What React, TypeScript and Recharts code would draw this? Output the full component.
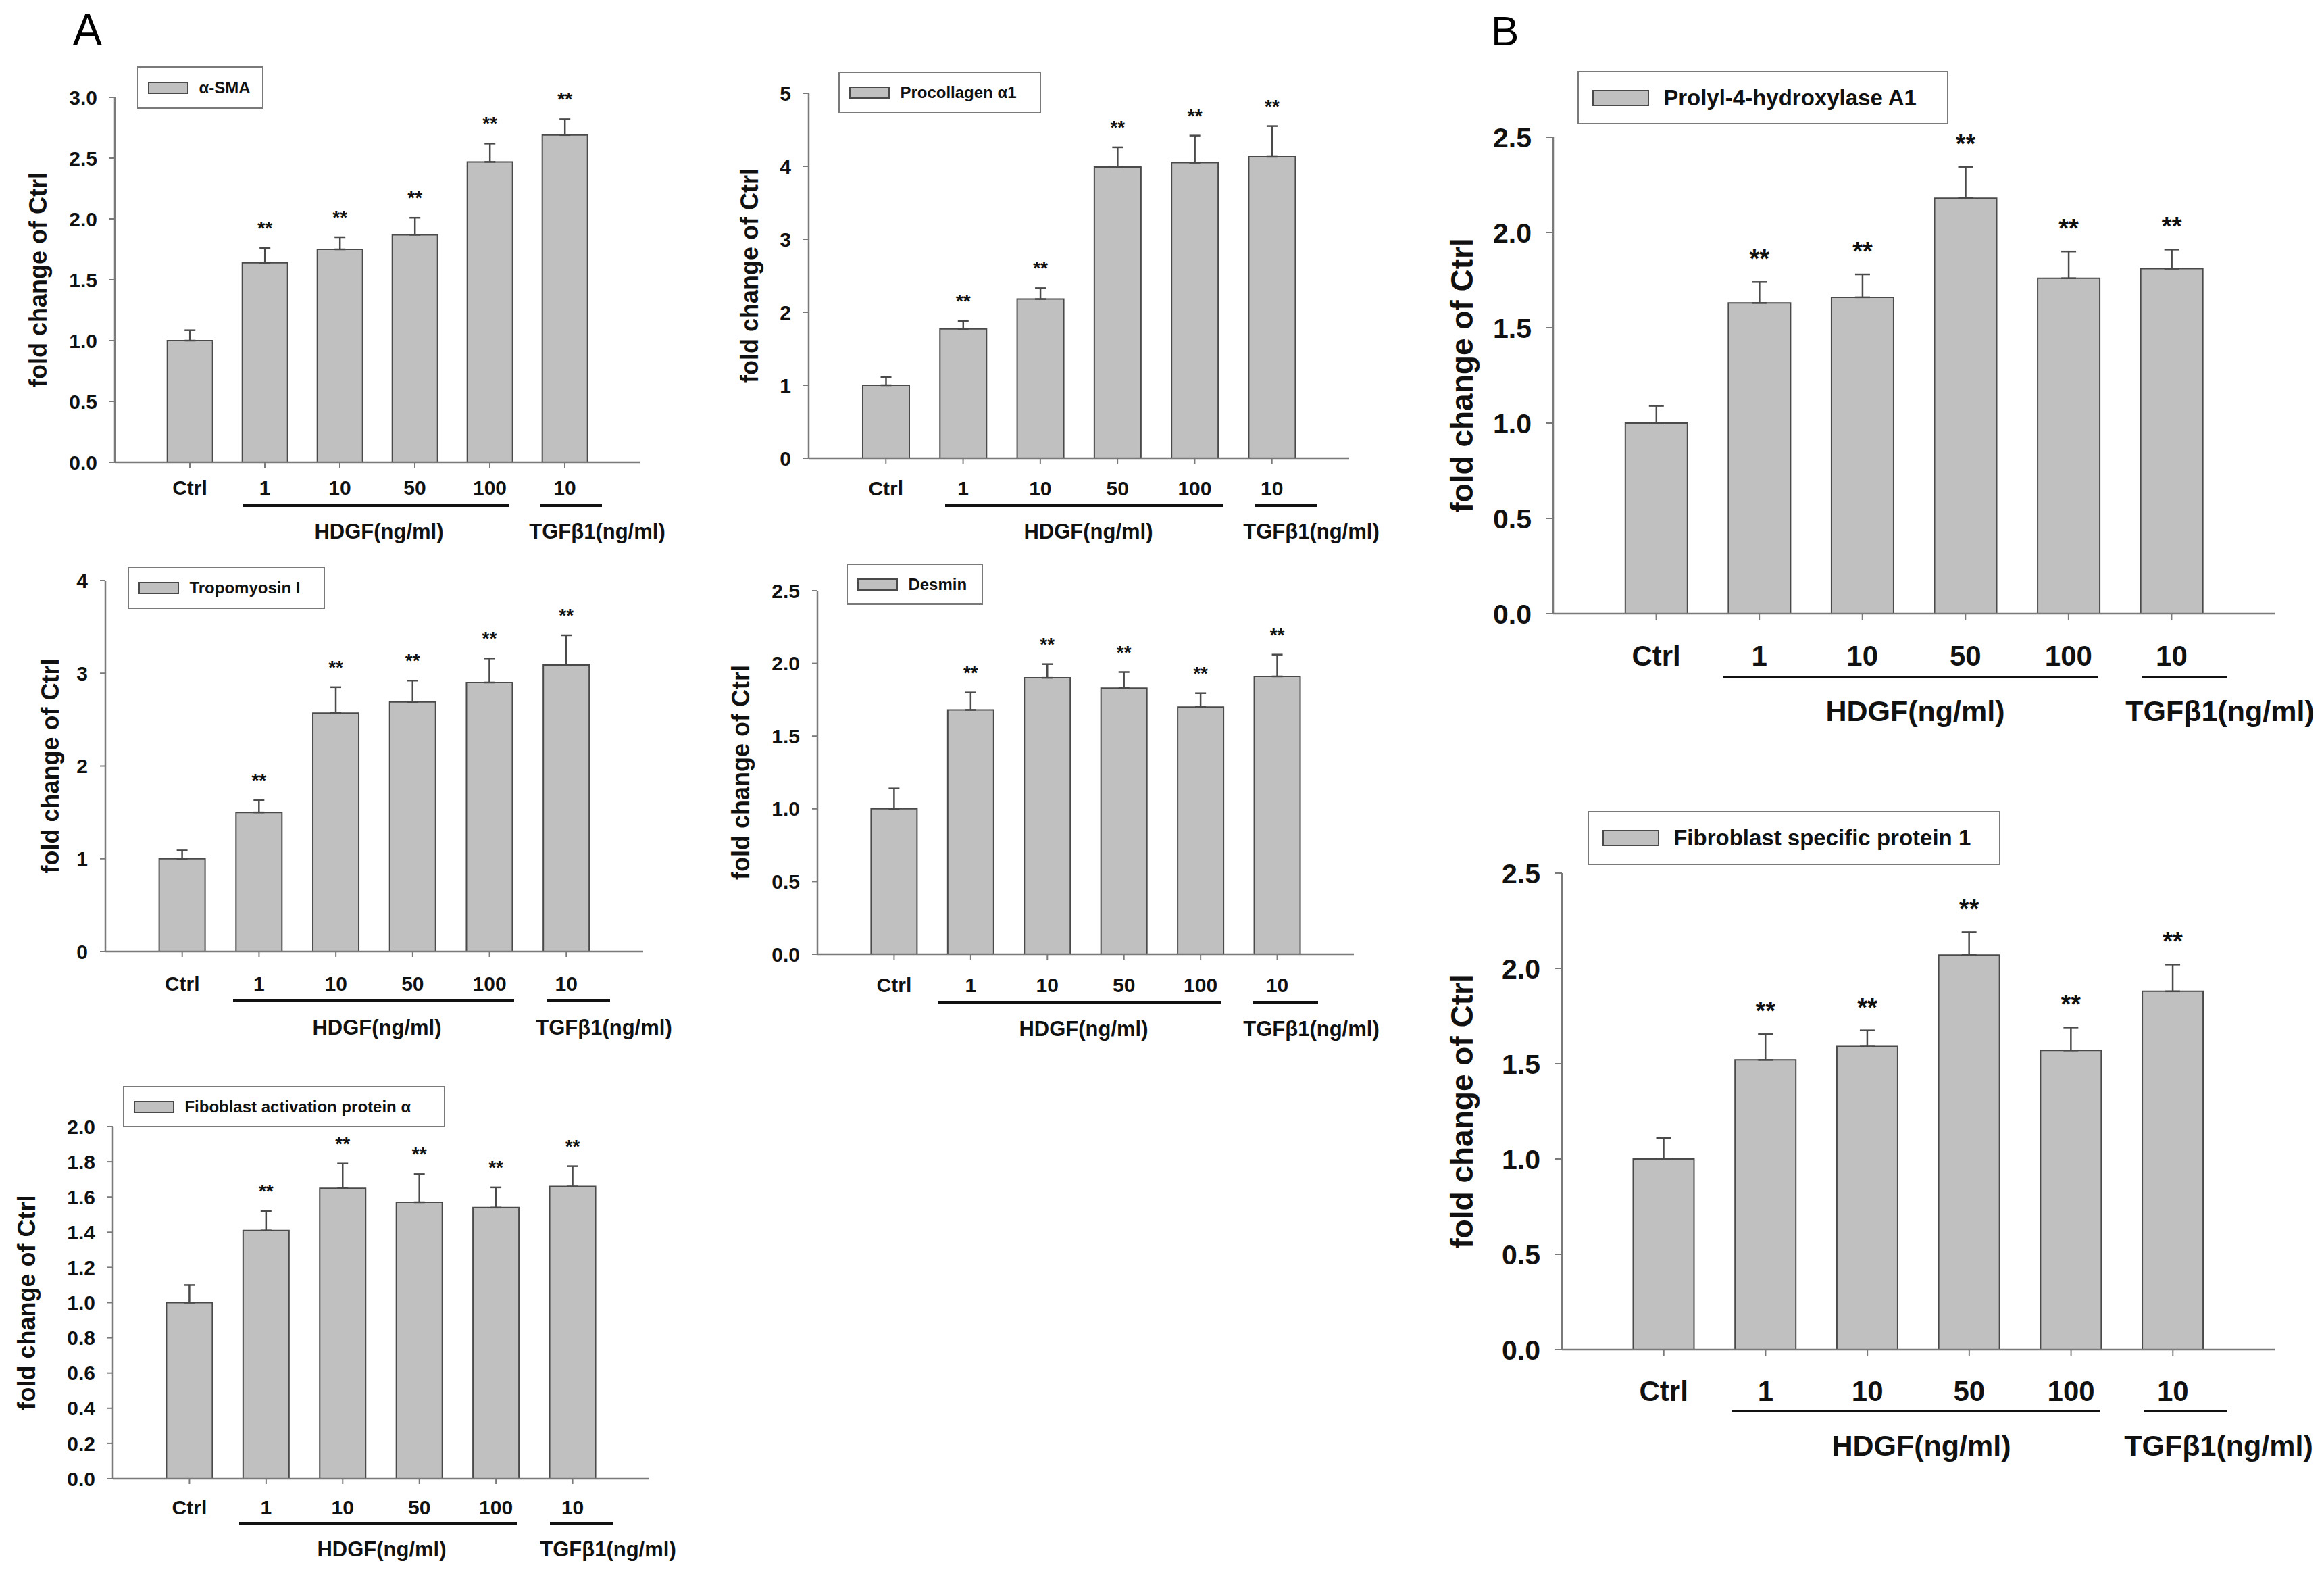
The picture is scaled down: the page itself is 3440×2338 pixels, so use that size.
import React from "react";
import { BarChart, Bar, XAxis, YAxis, ErrorBar, LabelList, Legend } from "recharts";

// treatment groups along the x axis
const groups = ["ctrl", "hdgf1", "hdgf10", "hdgf50", "hdgf100", "tgf10"];
const doseLabels = ["Ctrl", "1", "10", "50", "100", "10"];
const significant = [false, true, true, true, true, true];

// fold change of Ctrl (mean) and upper error
const smaMean = [1.0, 1.64, 1.75, 1.87, 2.47, 2.69];
const smaErr = [0.085, 0.12, 0.1, 0.14, 0.15, 0.13];

const procolMean = [1.0, 1.77, 2.18, 3.99, 4.05, 4.13];
const procolErr = [0.11, 0.11, 0.15, 0.27, 0.37, 0.42];

const tropoMean = [1.0, 1.5, 2.57, 2.69, 2.9, 3.09];
const tropoErr = [0.09, 0.13, 0.28, 0.23, 0.26, 0.32];

const desminMean = [1.0, 1.68, 1.9, 1.83, 1.7, 1.91];
const desminErr = [0.14, 0.12, 0.095, 0.11, 0.095, 0.15];

const fapMean = [1.0, 1.41, 1.65, 1.57, 1.54, 1.66];
const fapErr = [0.1, 0.11, 0.14, 0.16, 0.115, 0.115];

const p4haMean = [1.0, 1.63, 1.66, 2.18, 1.76, 1.81];
const p4haErr = [0.09, 0.11, 0.12, 0.165, 0.14, 0.1];

const fspMean = [1.0, 1.52, 1.59, 2.07, 1.57, 1.88];
const fspErr = [0.11, 0.135, 0.085, 0.12, 0.12, 0.14];

// y tick labels
const ticks3 = [0, 0.5, 1, 1.5, 2, 2.5, 3];
const ticks5 = [0, 1, 2, 3, 4, 5];
const ticks4 = [0, 1, 2, 3, 4];
const ticks25 = [0, 0.5, 1, 1.5, 2, 2.5];
const ticks2 = [0, 0.2, 0.4, 0.6, 0.8, 1, 1.2, 1.4, 1.6, 1.8, 2];

const FONT = "'Liberation Sans', Arial, Helvetica, sans-serif";
const BAR_FILL = "#c0c0c0";
const BAR_STROKE = "#4a4a4a";
const AXIS = "#7a7a7a";

const small = { tick: 30, cat: 30, ylab: 36, star: 28, starGap: 20, legend: 24, swW: 60, swH: 18, group: 31, tickSize: 8, yMargin: 18, cap: 8, line: 4 };
const big = { tick: 41, cat: 42, ylab: 46, star: 38, starGap: 21, legend: 33, swW: 84, swH: 24, group: 43, tickSize: 10, yMargin: 22, cap: 11, line: 4 };

const panels = [
  { name: "α-SMA", mean: smaMean, err: smaErr, ticks: ticks3, dec: 1, L: 170, R: 947, T: 144, B: 684, labelGap: 114, catGap: 19, lg: { x: 203, y: 98, w: 187, h: 63 }, under: { y: 748, h: [359, 754], t: [800, 891], ly: 786, hx: 561, tx: 884 }, f: small },
  { name: "Procollagen α1", mean: procolMean, err: procolErr, ticks: ticks5, dec: 0, L: 1197, R: 1997, T: 138, B: 678, labelGap: 88, catGap: 26, lg: { x: 1241, y: 106, w: 300, h: 61 }, under: { y: 748, h: [1399, 1810], t: [1857, 1950], ly: 786, hx: 1611, tx: 1941 }, f: small },
  { name: "Tropomyosin I", mean: tropoMean, err: tropoErr, ticks: ticks4, dec: 0, L: 156, R: 952, T: 859, B: 1408, labelGap: 82, catGap: 29, lg: { x: 189, y: 839, w: 292, h: 62 }, under: { y: 1481, h: [345, 761], t: [810, 903], ly: 1520, hx: 558, tx: 894 }, f: small },
  { name: "Desmin", mean: desminMean, err: desminErr, ticks: ticks25, dec: 1, L: 1210, R: 2004, T: 874, B: 1412, labelGap: 114, catGap: 27, lg: { x: 1253, y: 834, w: 202, h: 61 }, under: { y: 1483, h: [1388, 1808], t: [1855, 1951], ly: 1522, hx: 1604, tx: 1941 }, f: small },
  { name: "Fiboblast activation protein α", mean: fapMean, err: fapErr, ticks: ticks2, dec: 1, L: 167, R: 961, T: 1667, B: 2188, labelGap: 128, catGap: 24, lg: { x: 182, y: 1607, w: 477, h: 61 }, under: { y: 2254, h: [354, 765], t: [814, 908], ly: 2292, hx: 565, tx: 900 }, f: small },
  { name: "Prolyl-4-hydroxylase A1", mean: p4haMean, err: p4haErr, ticks: ticks25, dec: 1, L: 2299, R: 3367, T: 203, B: 908, labelGap: 135, catGap: 37, lg: { x: 2335, y: 105, w: 549, h: 79 }, under: { y: 1002, h: [2551, 3106], t: [3171, 3297], ly: 1052, hx: 2835, tx: 3286 }, f: big },
  { name: "Fibroblast specific protein 1", mean: fspMean, err: fspErr, ticks: ticks25, dec: 1, L: 2312, R: 3367, T: 1292, B: 1997, labelGap: 148, catGap: 36, lg: { x: 2350, y: 1200, w: 611, h: 80 }, under: { y: 2088, h: [2564, 3109], t: [3173, 3297], ly: 2139, hx: 2844, tx: 3284 }, f: big },
];

function Panel({ cfg }: { cfg: any }) {
  const f = cfg.f;
  const padL = 320, padT = 200, padR = 40, padB = 180;
  const xAxisH = 80;
  const yAxisW = cfg.labelGap * 2;
  const w = cfg.R - cfg.L + padL + padR;
  const h = cfg.B - cfg.T + padT + padB;
  const band = (cfg.R - cfg.L) / 7;
  const left = cfg.L - padL;
  const top = cfg.T - padT;

  const data = groups.map((g, i) => ({
    group: g,
    mean: cfg.mean[i],
    err: [0, cfg.err[i]],
    star: significant[i] ? "**" : "",
  }));

  const renderStar = (props: any) => {
    const { x, y, width, height, value } = props;
    const i = props.index ?? groups.indexOf(props.payload?.group);
    if (!value || i < 0) return null;
    const errPx = (cfg.err[i] * height) / cfg.mean[i];
    return (
      <text x={x + width / 2} y={y - errPx - f.starGap} textAnchor="middle" fontSize={f.star} fontWeight="bold" fill="#111" fontFamily={FONT}>
        {value}
      </text>
    );
  };

  const renderLegend = () => (
    <div style={{ boxSizing: "border-box", width: cfg.lg.w, height: cfg.lg.h, border: `2px solid ${AXIS}`, background: "#fff", display: "flex", alignItems: "center", paddingLeft: f.swW * 0.24 }}>
      <div style={{ boxSizing: "border-box", width: f.swW, height: f.swH, background: BAR_FILL, border: `2px solid ${BAR_STROKE}`, marginRight: f.swW * 0.25 }} />
      <span style={{ fontFamily: FONT, fontWeight: "bold", fontSize: f.legend, color: "#111", whiteSpace: "nowrap" }}>{cfg.name}</span>
    </div>
  );

  return (
    <div style={{ position: "absolute", left, top }}>
      <BarChart
        width={w}
        height={h}
        data={data}
        margin={{ top: padT, right: padR, bottom: padB - xAxisH, left: padL - yAxisW }}
        barCategoryGap="20%"
      >
        <XAxis
          dataKey="group"
          height={xAxisH}
          interval={0}
          padding={{ left: band / 2, right: band / 2 }}
          tickFormatter={(v: string) => doseLabels[groups.indexOf(v)]}
          axisLine={{ stroke: AXIS, strokeWidth: 2.5 }}
          tickLine={{ stroke: AXIS, strokeWidth: 2 }}
          tickSize={f.tickSize}
          tickMargin={cfg.catGap}
          tick={{ fontSize: f.cat, fontWeight: "bold", fill: "#111", fontFamily: FONT }}
        />
        <YAxis
          type="number"
          width={yAxisW}
          domain={[0, cfg.ticks[cfg.ticks.length - 1]]}
          ticks={cfg.ticks}
          interval={0}
          tickFormatter={(v: number) => v.toFixed(cfg.dec)}
          axisLine={{ stroke: AXIS, strokeWidth: 2.5 }}
          tickLine={{ stroke: AXIS, strokeWidth: 2 }}
          tickSize={f.tickSize}
          tickMargin={f.yMargin}
          tick={{ fontSize: f.tick, fontWeight: "bold", fill: "#111", fontFamily: FONT }}
          label={{
            value: "fold change of Ctrl",
            angle: -90,
            position: "center",
            style: { fontSize: f.ylab, fontWeight: "bold", fill: "#111", fontFamily: FONT, textAnchor: "middle" },
          }}
        />
        <Legend
          layout="vertical"
          align="center"
          verticalAlign="middle"
          wrapperStyle={{ left: cfg.lg.x - left, top: cfg.lg.y - top, width: cfg.lg.w, height: cfg.lg.h }}
          content={renderLegend}
        />
        <Bar dataKey="mean" name={cfg.name} fill={BAR_FILL} stroke={BAR_STROKE} strokeWidth={2} isAnimationActive={false}>
          <ErrorBar dataKey="err" direction="y" width={f.cap} stroke={BAR_STROKE} strokeWidth={2.5} isAnimationActive={false} />
          <LabelList dataKey="star" content={renderStar} />
        </Bar>
      </BarChart>
    </div>
  );
}

export default function App() {
  return (
    <div style={{ position: "absolute", left: 0, top: 0, width: 3440, height: 2338, background: "#fff", overflow: "hidden" }}>
      {panels.map((p) => (
        <Panel key={p.name} cfg={p} />
      ))}
      <svg width={3440} height={2338} style={{ position: "absolute", left: 0, top: 0, pointerEvents: "none" }}>
        <text x={108} y={66} fontSize={64} fontFamily={FONT} fill="#000">A</text>
        <text x={2207} y={67} fontSize={62} fontFamily={FONT} fill="#000">B</text>
        {panels.map((p) => {
          const u = p.under;
          const by = u.ly + p.f.group * 0.36;
          return (
            <g key={p.name + "-group"}>
              <line x1={u.h[0]} x2={u.h[1]} y1={u.y} y2={u.y} stroke="#111" strokeWidth={p.f.line} />
              <line x1={u.t[0]} x2={u.t[1]} y1={u.y} y2={u.y} stroke="#111" strokeWidth={p.f.line} />
              <text x={u.hx} y={by} textAnchor="middle" fontSize={p.f.group} fontWeight="bold" fontFamily={FONT} fill="#111">HDGF(ng/ml)</text>
              <text x={u.tx} y={by} textAnchor="middle" fontSize={p.f.group} fontWeight="bold" fontFamily={FONT} fill="#111">TGFβ1(ng/ml)</text>
            </g>
          );
        })}
      </svg>
    </div>
  );
}
